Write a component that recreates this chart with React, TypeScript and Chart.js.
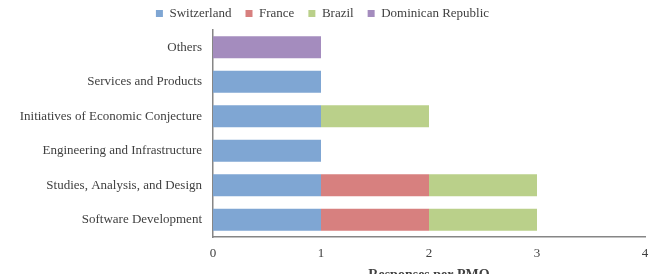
import React, { useEffect, useRef } from "react";
import { Chart, registerables } from "chart.js";

Chart.register(...registerables);

const categories = [
  "Others",
  "Services and Products",
  "Initiatives of Economic Conjecture",
  "Engineering and Infrastructure",
  "Studies, Analysis, and Design",
  "Software Development",
];
const switzerland = [0, 1, 1, 1, 1, 1];
const france = [0, 0, 0, 0, 1, 1];
const brazil = [0, 0, 1, 0, 1, 1];
const dominicanRepublic = [1, 0, 0, 0, 0, 0];
const xTicks = [0, 1, 2, 3, 4];

const FONT = "'Liberation Serif', 'DejaVu Serif', serif";
const TEXT = "#404040";

export default function App() {
  const ref = useRef<HTMLCanvasElement | null>(null);
  useEffect(() => {
    document.body.style.margin = "0";
    const ctx = ref.current!;
    const chart = new Chart(ctx, {
      type: "bar",
      data: {
        labels: categories,
        datasets: [
          { label: "Switzerland", data: switzerland, backgroundColor: "#7FA6D3" },
          { label: "France", data: france, backgroundColor: "#D7807F" },
          { label: "Brazil", data: brazil, backgroundColor: "#BAD08A" },
          { label: "Dominican Republic", data: dominicanRepublic, backgroundColor: "#A48CBE" },
        ],
      },
      options: {
        indexAxis: "y",
        animation: false,
        responsive: false,
        maintainAspectRatio: false,
        datasets: { bar: { categoryPercentage: 1, barPercentage: 0.64 } },
        layout: { padding: { left: 0, right: 8, top: -7, bottom: 0 } },
        plugins: {
          tooltip: { enabled: false },
          legend: {
            position: "top",
            labels: {
              boxWidth: 7,
              boxHeight: 7,
              padding: 14,
              color: TEXT,
              font: { family: FONT, size: 13 },
            },
          },
        },
        scales: {
          x: {
            stacked: true,
            min: 0,
            max: 4,
            afterTickToLabelConversion: (s: any) => {
              s.ticks = xTicks.map((v) => ({ value: v, label: String(v) }));
            },
            afterFit: (s: any) => {
              s.height = 37;
              s.paddingRight = 0;
              s.paddingLeft = 0;
            },
            grid: { display: false, drawTicks: false },
            border: { display: true, color: "#868686", width: 1.5 },
            ticks: { stepSize: 1, padding: 9, color: TEXT, font: { family: FONT, size: 13 } },
            title: {
              display: true,
              text: "Responses per PMO",
              color: TEXT,
              font: { family: FONT, size: 14, weight: "bold" },
              padding: { top: 4, bottom: -10 },
            },
          },
          y: {
            stacked: true,
            afterFit: (s: any) => {
              s.width = 213;
            },
            grid: { display: false, drawTicks: false },
            border: { display: true, color: "#868686", width: 1.5 },
            ticks: { padding: 11, color: TEXT, font: { family: FONT, size: 13 } },
          },
        },
      },
    });
    return () => chart.destroy();
  }, []);
  return (
    <div style={{ position: "absolute", left: 0, top: 0, width: 653, height: 274 }}>
      <canvas ref={ref} width={653} height={274} style={{ width: 653, height: 274 }} />
    </div>
  );
}
